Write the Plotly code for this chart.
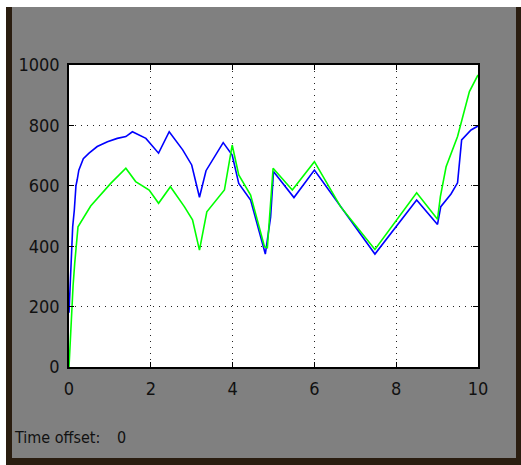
import plotly.graph_objects as go

# Scope signals: time (s) and amplitude of the two channels
t_blue = [0, 0.02, 0.04, 0.07, 0.09, 0.13, 0.17, 0.2, 0.24, 0.35, 0.49, 0.69, 0.94,
          1.18, 1.39, 1.55, 1.88, 2.19, 2.45, 2.78, 3.0, 3.19, 3.35, 3.77, 3.99,
          4.15, 4.44, 4.8, 4.93, 5.0, 5.5, 6.0, 6.64, 7.48, 8.5, 9.01, 9.09, 9.34,
          9.5, 9.6, 9.83, 10]
v_blue = [180, 240, 315, 390, 464, 520, 600, 620, 652, 690, 708, 730, 746,
          757, 763, 779, 757, 708, 779, 719, 669, 562, 650, 743, 702,
          608, 553, 374, 497, 647, 561, 652, 531, 374, 553, 472, 531, 573,
          610, 752, 785, 798]

t_green = [0, 0.02, 0.04, 0.07, 0.1, 0.14, 0.17, 0.22, 0.53, 1.02, 1.39, 1.63,
           1.96, 2.19, 2.48, 2.82, 3.02, 3.19, 3.37, 3.8, 3.99, 4.15, 4.44, 4.78,
           4.85, 4.99, 5.46, 6.0, 6.64, 7.48, 8.5, 9.01, 9.08, 9.22, 9.5, 9.79, 10]
v_green = [0, 60, 122, 199, 270, 344, 400, 464, 533, 608, 658, 614,
           586, 542, 597, 531, 487, 387, 514, 586, 735, 636, 569, 398,
           395, 658, 586, 680, 531, 389, 577, 489, 564, 663, 763, 912, 967]

x_ticks = [0, 2, 4, 6, 8, 10]
y_ticks = [0, 200, 400, 600, 800, 1000]
time_offset = 0

FONT = "DejaVu Sans Condensed, Liberation Sans Narrow, DejaVu Sans, sans-serif"
TICK_FONT = dict(family=FONT, size=18, color="#111111")

fig = go.Figure()
fig.add_trace(go.Scatter(x=t_blue, y=v_blue, mode="lines",
                         line=dict(color="#0000ff", width=1.6), showlegend=False))
fig.add_trace(go.Scatter(x=t_green, y=v_green, mode="lines",
                         line=dict(color="#00ff00", width=1.6), showlegend=False))

axis_common = dict(
    showline=True, linecolor="black", linewidth=1.5, mirror="allticks",
    ticks="inside", ticklen=5, tickcolor="black", tickwidth=1,
    showgrid=True, gridcolor="#222222", gridwidth=1, griddash="1px,5px",
    zeroline=False,
    tickfont=TICK_FONT,
)

fig.update_xaxes(range=[0, 10], tickvals=x_ticks, ticktext=[str(v) for v in x_ticks],
                 ticklabelstandoff=5, **axis_common)
fig.update_yaxes(range=[0, 1000], tickvals=y_ticks, ticktext=[str(v) for v in y_ticks],
                 ticklabelstandoff=4, **axis_common)

W, H = 521, 465
ml, mr, mt, mb = 69, 43, 65, 98
pw, ph = W - ml - mr, H - mt - mb

# Window frame: white strip above/left, dark borders around the gray panel
frame = [
    # (x0, y0, x1, y1) in pixels, fill
    (0, 0, 521, 7, "white"),
    (0, 7, 6, 465, "white"),
    (6, 7, 12, 465, "#2a1d10"),
    (516, 7, 521, 465, "#2a1d10"),
    (6, 458, 521, 465, "#2a1d10"),
]
shapes = []
for x0, y0, x1, y1, c in frame:
    shapes.append(dict(
        type="rect", xref="paper", yref="paper", layer="below",
        x0=(x0 - ml) / pw, x1=(x1 - ml) / pw,
        y0=(H - mb - y1) / ph, y1=(H - mb - y0) / ph,
        fillcolor=c, line=dict(width=0)))

label_font = dict(family=FONT, size=16, color="#111111")
annotations = [
    dict(text="Time offset:", xref="paper", yref="paper",
         x=(12 - ml) / pw, y=(H - mb - 437) / ph, xanchor="left", yanchor="middle",
         showarrow=False, font=label_font),
    dict(text=str(time_offset), xref="paper", yref="paper",
         x=(115 - ml) / pw, y=(H - mb - 437) / ph, xanchor="left", yanchor="middle",
         showarrow=False, font=label_font),
]

fig.update_layout(
    width=W, height=H,
    margin=dict(l=ml, r=mr, t=mt, b=mb, pad=0),
    paper_bgcolor="#808080", plot_bgcolor="white",
    shapes=shapes, annotations=annotations,
)

fig.write_html("out.html")
